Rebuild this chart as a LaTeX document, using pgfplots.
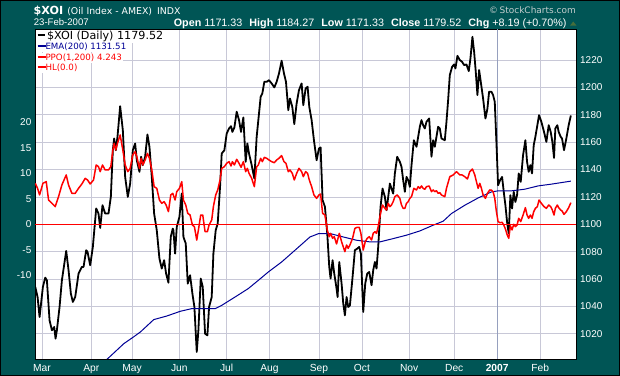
\documentclass[border=0pt]{standalone}
\usepackage{pgfplots}
\pgfplotsset{compat=1.18}
\usepackage{fontspec}
\setmainfont{Liberation Sans}
\newfontfamily\dejavu{DejaVu Sans}
\definecolor{bgteal}{RGB}{0,85,85}
\definecolor{gridc}{RGB}{200,200,215}
\definecolor{yeargrid}{RGB}{150,160,190}
\definecolor{emablue}{RGB}{0,0,150}
\definecolor{copyc}{RGB}{195,205,205}
\definecolor{triup}{RGB}{70,110,60}
\begin{document}
\begin{tikzpicture}
\path[use as bounding box] (0bp,0bp) rectangle (620bp,376bp);
\fill[bgteal] (0bp,0bp) rectangle (620bp,376bp);
\draw[black, line width=1bp] (0.5bp,0.5bp) rectangle (619.5bp,375.5bp);
\begin{axis}[at={(35bp,17bp)}, anchor=south west, scale only axis,
  width=541bp, height=330bp,
  xmin=-3.2, xmax=248.7, ymin=1001.5, ymax=1242.7,
  axis background/.style={fill=white},
  axis line style={black, line width=0.8bp},
  xtick={0,23,42,64,86,106,129,149,171,192,232},
  xticklabels={Mar,Apr,May,Jun,Jul,Aug,Sep,Oct,Nov,Dec,Feb},
  extra x ticks={212}, extra x tick labels={\textbf{2007}},
  extra x tick style={grid style={yeargrid, line width=0.8bp}},
  ytick={1020,1040,1060,1080,1100,1120,1140,1160,1180,1200,1220},
  yticklabels={1020,1040,1060,1080,1100,1120,1140,1160,1180,1200,1220},
  ytick pos=right, xtick pos=bottom,
  grid=major, grid style={gridc, line width=0.6bp},
  major tick length=0pt,
  xticklabel style={anchor=base, yshift=-12bp, inner sep=0pt, text=white, font=\fontsize{10.3}{12}\selectfont},
  yticklabel style={anchor=west, inner sep=0pt, xshift=4bp, text=white, font=\fontsize{10}{12}\selectfont},
]
\addplot[black, line width=1.8bp, line join=round] coordinates {
(-3.08,1054.2) (-2.0,1046.8) (-1.07,1032.2) (0.48,1054.2) (1.57,1061.0) (2.34,1059.0) (3.58,1029.8) (4.67,1022.5) (5.75,1024.9) (6.37,1016.4) (6.99,1022.5) (8.23,1039.5) (9.32,1059.0) (11.33,1080.5) (12.42,1066.4) (13.5,1049.3) (14.43,1043.2) (15.52,1046.8) (17.07,1063.9) (18.62,1068.8) (19.4,1068.8) (20.64,1081.0) (21.26,1079.8) (22.5,1070.0) (23.73,1083.4) (25.29,1111.5) (26.37,1107.8) (27.15,1097.3) (28.23,1113.9) (29.47,1107.8) (31.02,1107.8) (32.11,1120.0) (33.04,1154.1) (33.66,1162.7) (34.43,1154.1) (35.21,1163.9) (36.45,1186.3) (37.69,1168.8) (38.78,1134.6) (40.01,1120.0) (41.1,1129.7) (42.34,1154.1) (43.43,1159.0) (44.2,1146.8) (45.44,1138.3) (46.22,1149.3) (46.99,1143.2) (48.08,1149.3) (49.16,1165.6) (50.09,1156.6) (51.18,1134.6) (52.27,1107.8) (53.5,1095.6) (54.74,1074.9) (55.83,1067.6) (56.92,1073.7) (57.85,1063.9) (58.93,1057.3) (60.01,1090.7) (60.94,1096.8) (61.26,1095.6) (62.03,1078.5) (62.8,1098.0) (64.05,1105.4) (65.13,1122.4) (65.91,1090.7) (66.99,1085.9) (67.92,1056.6) (69.01,1062.7) (70.09,1049.3) (71.02,1039.5) (72.11,1006.6) (72.88,1022.5) (73.97,1060.3) (74.9,1054.2) (75.99,1020.0) (77.07,1018.8) (77.85,1039.5) (79.08,1046.8) (79.86,1078.5) (80.94,1095.6) (81.87,1100.5) (82.96,1127.3) (83.74,1151.7) (84.98,1154.1) (86.06,1166.3) (87.15,1170.0) (88.08,1171.7) (88.7,1167.5) (89.63,1170.7) (90.71,1182.2) (91.8,1176.1) (92.73,1167.5) (93.81,1178.0) (94.9,1145.6) (95.67,1159.0) (96.45,1151.7) (97.69,1143.2) (98.93,1133.4) (100.01,1163.9) (100.79,1176.1) (101.87,1193.1) (102.65,1195.6) (103.58,1204.1) (104.67,1204.1) (105.75,1205.3) (106.99,1202.9) (108.23,1200.0) (109.32,1204.1) (110.4,1210.2) (111.64,1219.5) (112.73,1210.2) (113.66,1204.1) (114.74,1183.4) (115.52,1191.9) (116.6,1185.8) (117.53,1173.2) (118.62,1188.3) (119.71,1198.0) (120.94,1202.9) (121.72,1187.0) (122.8,1199.2) (123.73,1200.5) (124.51,1185.8) (125.6,1176.1) (126.68,1161.4) (127.92,1146.8) (129.01,1155.4) (129.78,1156.1) (130.71,1117.6) (131.8,1112.7) (132.88,1093.2) (133.81,1068.8) (134.43,1060.3) (135.36,1073.7) (136.14,1063.9) (137.22,1052.9) (137.69,1046.8) (138.47,1072.4) (139.55,1056.6) (140.33,1042.0) (141.1,1033.4) (141.87,1046.8) (142.65,1039.5) (143.43,1040.7) (144.67,1061.5) (145.75,1081.0) (146.84,1082.2) (147.77,1083.4) (148.54,1078.5) (149.63,1035.9) (150.56,1056.6) (151.49,1063.9) (152.42,1065.1) (153.5,1055.4) (154.28,1066.4) (155.06,1072.4) (155.83,1067.6) (156.6,1083.4) (157.69,1112.7) (158.62,1126.1) (159.71,1120.0) (160.48,1110.2) (161.26,1120.0) (162.03,1129.7) (162.8,1126.1) (163.58,1122.4) (164.36,1137.1) (165.44,1149.3) (166.68,1145.6) (167.46,1141.9) (168.23,1132.2) (169.01,1123.7) (169.78,1134.6) (170.56,1132.2) (171.34,1127.3) (172.11,1143.2) (173.2,1161.4) (174.43,1156.6) (175.21,1163.9) (175.99,1171.2) (176.76,1176.1) (177.53,1172.4) (178.31,1170.0) (179.08,1174.9) (180.33,1177.3) (181.41,1149.3) (182.19,1161.4) (182.96,1156.6) (183.73,1163.9) (184.51,1171.2) (185.29,1170.0) (186.06,1162.7) (187.61,1161.4) (188.39,1174.9) (189.16,1190.7) (189.94,1209.0) (191.02,1215.1) (191.95,1216.8) (192.57,1213.9) (193.5,1223.1) (194.59,1220.0) (195.67,1218.7) (196.6,1216.3) (197.69,1216.8) (198.77,1211.9) (199.55,1221.2) (200.48,1237.0) (201.26,1226.1) (202.03,1211.4) (202.8,1194.4) (203.58,1212.7) (204.36,1204.1) (205.44,1191.9) (206.53,1177.3) (207.46,1184.6) (208.23,1196.8) (209.32,1196.8) (210.09,1194.4) (210.87,1189.5) (211.64,1160.2) (212.42,1128.5) (213.35,1132.2) (214.28,1134.6) (215.06,1123.7) (215.83,1113.9) (216.6,1101.7) (217.38,1093.2) (218.15,1121.2) (218.93,1111.5) (219.7,1123.7) (220.48,1116.3) (221.26,1121.2) (222.03,1137.1) (222.96,1131.0) (224.05,1150.5) (225.13,1161.4) (225.91,1145.6) (226.68,1138.3) (227.46,1143.2) (228.23,1137.1) (229.01,1157.8) (229.78,1163.9) (230.71,1172.4) (231.49,1179.7) (232.57,1174.9) (233.81,1167.5) (234.9,1160.2) (235.99,1172.4) (236.92,1167.5) (237.69,1160.2) (238.47,1148.5) (239.08,1170.0) (240.0,1172.4) (240.63,1167.5) (241.56,1163.9) (242.19,1162.7) (243.12,1154.1) (244.2,1162.7) (245.29,1172.4) (246.3,1179.5)
};
\addplot[emablue, line width=1bp] coordinates {
(29.5,1000.5) (30.42,1001.4) (38.14,1012.7) (42.65,1017.6) (45.91,1021.3) (52.09,1030.3) (58.14,1032.9) (64.51,1036.4) (69.77,1038.3) (80.65,1038.3) (83.72,1040.7) (89.95,1046.8) (96.14,1053.0) (100.79,1059.0) (105.44,1065.1) (111.63,1072.4) (117.86,1081.0) (124.84,1090.7) (128.93,1093.2) (134.14,1093.2) (140.33,1090.7) (146.51,1088.3) (152.74,1087.1) (157.4,1087.1) (163.58,1089.5) (169.77,1092.0) (176.0,1095.1) (182.19,1099.3) (186.84,1102.2) (190.7,1107.8) (196.93,1113.9) (203.12,1119.2) (209.3,1123.6) (212.42,1124.4) (218.6,1124.4) (224.84,1125.6) (231.02,1128.0) (237.21,1129.3) (246.3,1131.5)
};
\end{axis}
\begin{axis}[at={(35bp,17bp)}, anchor=south west, scale only axis,
  width=541bp, height=330bp,
  xmin=-3.2, xmax=248.7, ymin=-26.41, ymax=38.29,
  axis x line=none, axis y line*=left,
  axis line style={black, line width=0.8bp},
  ytick={-10,-5,0,5,10,15,20},
  yticklabels={-10,-5,0,5,10,15,20},
  major tick length=0pt,
  yticklabel style={anchor=east, inner sep=0pt, xshift=-3.5bp, text=white, font=\fontsize{10}{12}\selectfont},
]
\addplot[red, line width=1bp] coordinates {(-3.2,0) (248.7,0)};
\addplot[red, line width=1.5bp, line join=round] coordinates {
(-3.08,8.03) (-2.0,7.05) (-1.07,5.75) (0.48,8.03) (2.03,8.36) (3.12,4.76) (4.67,4.11) (6.22,3.46) (7.77,5.42) (9.32,7.71) (11.33,9.67) (12.42,7.71) (13.97,6.07) (15.52,6.07) (17.07,7.05) (18.62,7.90) (20.17,9.01) (21.26,8.69) (22.5,7.90) (24.05,8.69) (25.29,11.63) (26.37,11.3) (27.15,10.32) (28.23,11.63) (29.47,10.65) (31.02,10.65) (32.11,11.3) (33.04,14.57) (33.66,15.88) (34.43,14.57) (35.21,15.88) (36.45,17.51) (37.69,14.57) (38.78,11.63) (40.01,10.32) (41.1,10.97) (42.34,13.59) (43.43,14.24) (44.2,13.26) (45.44,10.97) (46.22,12.94) (46.99,11.63) (48.08,12.61) (49.16,13.92) (50.09,12.94) (51.18,10.65) (52.27,7.38) (53.5,7.05) (54.74,4.76) (55.83,4.11) (56.92,4.44) (57.85,3.78) (58.93,2.48) (60.01,5.75) (60.94,6.07) (62.03,4.76) (62.8,6.4) (64.05,7.05) (65.13,8.36) (65.91,4.76) (66.99,3.78) (67.92,2.15) (69.01,1.82) (70.09,-0.14) (71.02,-0.46) (72.11,-3.08) (72.88,-1.12) (73.97,1.82) (74.9,1.82) (75.99,-1.45) (77.07,-1.45) (77.85,-0.14) (79.08,0.84) (79.86,3.46) (80.94,5.75) (81.87,6.73) (82.96,8.69) (83.74,10.97) (84.98,11.3) (86.06,11.96) (87.15,12.28) (88.08,11.43) (88.7,12.28) (89.63,11.63) (90.71,12.74) (91.8,11.96) (92.73,11.17) (93.81,12.28) (94.9,10.32) (95.67,10.97) (96.45,9.99) (97.69,9.01) (98.93,7.38) (100.01,11.3) (100.79,11.63) (101.87,12.94) (102.65,12.28) (103.58,13.13) (104.67,12.94) (105.75,12.61) (106.99,12.28) (108.23,12.08) (109.32,12.61) (110.4,12.94) (111.64,13.46) (112.73,12.28) (113.66,11.96) (114.74,10.32) (115.52,10.65) (116.6,9.99) (117.53,8.69) (118.62,9.99) (119.71,10.97) (120.94,10.32) (121.72,9.34) (122.8,10.32) (123.73,9.99) (124.51,8.69) (125.6,7.38) (126.68,5.75) (127.92,5.09) (129.01,5.75) (129.78,5.94) (130.71,2.15) (131.8,1.82) (132.88,-1.12) (133.81,-2.43) (134.43,-1.77) (135.36,-2.75) (136.14,-2.43) (137.22,-3.86) (137.69,-3.08) (138.47,-1.77) (139.55,-3.41) (140.33,-4.39) (141.1,-5.37) (141.87,-4.06) (142.65,-4.71) (143.43,-4.06) (144.67,-2.75) (145.75,-0.79) (146.84,-0.59) (147.77,-0.59) (148.54,-1.77) (149.63,-5.04) (150.56,-3.41) (151.49,-2.75) (152.42,-2.43) (153.5,-3.08) (154.28,-1.77) (155.06,-1.45) (155.83,-1.77) (156.6,-0.46) (157.69,2.15) (158.62,3.78) (159.71,3.13) (160.48,2.8) (161.26,4.11) (162.03,3.46) (162.8,3.78) (163.58,4.44) (164.36,5.42) (165.44,5.75) (166.68,5.09) (167.46,3.78) (168.23,3.13) (169.01,3.13) (169.78,4.11) (170.56,4.44) (171.34,5.09) (172.11,5.42) (173.2,7.05) (174.43,6.73) (175.21,7.38) (175.99,7.05) (176.76,7.51) (177.53,7.05) (178.31,6.86) (179.08,7.38) (180.33,7.51) (181.41,6.4) (182.19,6.73) (182.96,6.4) (183.73,6.59) (184.51,6.07) (185.29,6.2) (186.06,5.75) (187.61,5.42) (188.39,7.05) (189.94,9.34) (191.49,9.67) (193.04,10.32) (194.59,9.67) (195.67,9.67) (196.91,9.34) (198.15,8.88) (199.24,10.32) (200.48,10.84) (201.57,9.67) (202.34,8.36) (203.12,7.05) (203.89,8.03) (204.66,7.05) (205.44,5.75) (206.53,5.09) (207.46,6.07) (208.54,6.73) (209.32,6.7) (210.09,6.4) (210.87,5.09) (211.64,2.48) (212.42,0.52) (213.35,0.3) (214.28,0.4) (215.06,-0.14) (215.83,-0.9) (216.6,-2.0) (217.38,-2.75) (218.15,-0.3) (218.93,-1.1) (219.7,0.0) (220.48,-0.46) (221.26,-0.14) (222.03,1.17) (222.96,0.52) (224.05,1.82) (225.13,3.26) (225.91,1.82) (226.68,1.17) (227.46,1.82) (228.23,1.17) (229.01,2.48) (229.78,3.13) (230.71,3.46) (231.49,4.76) (232.57,4.11) (233.81,3.46) (234.9,3.13) (235.99,3.78) (236.92,3.46) (237.69,2.8) (238.47,1.82) (239.08,3.13) (240.0,3.78) (240.63,3.26) (241.56,2.8) (242.19,2.61) (243.12,1.95) (244.2,2.48) (245.29,3.26) (246.3,4.24)
};
\end{axis}
% header
\node[anchor=base west, inner sep=0pt, text=white] at (33.5bp,361bp)
  {{\dejavu\bfseries\fontsize{11.2}{13}\selectfont \$XOI}\hspace{4bp}{\dejavu\fontsize{9.4}{11}\selectfont (Oil Index - AMEX)\hspace{5bp}INDX}};
\node[anchor=base west, inner sep=0pt, text=white, font=\fontsize{9.6}{11}\selectfont] at (33.7bp,350bp) {23-Feb-2007};
\node[anchor=base east, inner sep=0pt, text=white, font=\fontsize{10.8}{12}\selectfont] at (566.7bp,349.5bp)
  {\textbf{Open} 1171.33\hspace{7bp}\textbf{High} 1184.27\hspace{7bp}\textbf{Low} 1171.33\hspace{7bp}\textbf{Close} 1179.52\hspace{7bp}\textbf{Chg} +8.19 (+0.70\%)};
\fill[triup] (570bp,350.3bp) -- (576.5bp,350.3bp) -- (573.25bp,354.5bp) -- cycle;
\node[anchor=base east, inner sep=0pt, text=copyc, font=\dejavu\fontsize{9}{11}\selectfont] at (576bp,362bp) {\textcopyright\,StockCharts.com};
% legend
\node[anchor=base west, fill=white, inner xsep=1.5bp, inner ysep=1bp, font=\dejavu\fontsize{11.2}{13}\selectfont, text=black] at (35.8bp,336.3bp)
  {\textcolor{black}{\rule[0.3em]{7.5bp}{2bp}}\hspace{2bp}\$XOI (Daily) 1179.52};
\node[anchor=base west, fill=white, inner xsep=1.5bp, inner ysep=1bp, font=\dejavu\fontsize{8.7}{10}\selectfont, text=emablue] at (35.8bp,326bp)
  {\rule[0.3em]{8bp}{2bp}EMA(200) 1131.51};
\node[anchor=base west, fill=white, inner xsep=1.5bp, inner ysep=1bp, font=\dejavu\fontsize{8.7}{10}\selectfont, text=red] at (35.8bp,315.3bp)
  {\rule[0.3em]{8bp}{2bp}PPO(1,200) 4.243};
\node[anchor=base west, fill=white, inner xsep=1.5bp, inner ysep=1bp, font=\dejavu\fontsize{8.7}{10}\selectfont, text=red] at (35.8bp,305bp)
  {\rule[0.3em]{8bp}{2bp}HL(0.0)};
\end{tikzpicture}
\end{document}
